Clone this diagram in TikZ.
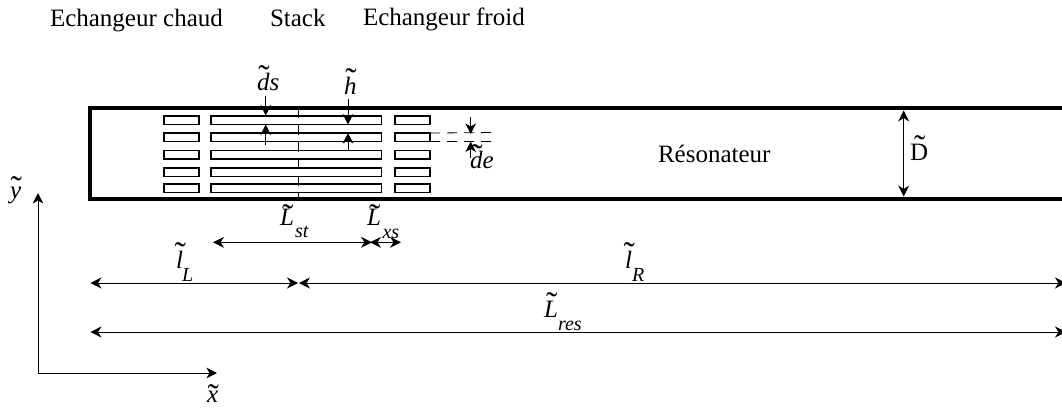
\documentclass[tikz,border=0pt]{standalone}
\usepackage{fontspec}
\setmainfont{Liberation Serif}
\usetikzlibrary{arrows.meta}
\newdimen\tlshift
\newcommand\tl[2][\itshape]{\setbox0\hbox{#1#2}\rlap{\hbox to \wd0{\hss\kern1.5pt\raisebox{\dimexpr\ht0-14.5pt+\tlshift\relax}[0pt][0pt]{\normalfont\fontsize{34}{34}\selectfont ^^^^02dc}\hss}}\box0}
\tikzset{
  x=1pt,y=-1pt,
  lab/.style={anchor=base west,inner sep=0pt,outer sep=0pt,font=\fontsize{25}{28}\selectfont},
  sublab/.style={anchor=base west,inner sep=0pt,outer sep=0pt,font=\fontsize{20}{24}\selectfont\itshape},
  plate/.style={draw,line width=1.5pt,minimum height=8.5pt,inner sep=0pt,outer sep=0pt},
  wall/.style={line width=4pt,miter limit=10},
  dim/.style={line width=1pt,{Stealth[length=11pt,width=11pt,inset=3.5pt]}-{Stealth[length=11pt,width=11pt,inset=3.5pt]}},
  arr/.style={line width=1pt,-{Stealth[length=10.5pt,width=10.5pt,inset=3pt]}},
  guide/.style={line width=0.8pt,dash pattern=on 10pt off 7pt},
}
\begin{document}
\begin{tikzpicture}
\useasboundingbox (0,0) rectangle (1062,407);
\clip (0,0) rectangle (1062,407);
% resonator
\coordinate (wallTR) at (1075,108);
\coordinate (wallTL) at (90,108);
\coordinate (wallBL) at (90,199);
\coordinate (wallBR) at (1075,199);
\draw[wall] (wallTR) -- (wallTL) -- (wallBL) -- (wallBR);
% plates
\foreach \i/\yy in {1/120,2/137.3,3/154.5,4/172,5/188}{
  \node[plate,minimum width=35pt]  (hot\i)   at (181.5,\yy) {};
  \node[plate,minimum width=170.5pt] (stack\i) at (296,\yy) {};
  \node[plate,minimum width=35pt]  (cold\i)  at (412.5,\yy) {};
}
% guides
\coordinate (midT) at (298,108);
\coordinate (midB) at (298,198);
\draw[guide] (midT) -- (midB);
\coordinate (g1) at (495,132.5);
\coordinate (g2) at (495,141.5);
\draw[guide] (cold2.north east) -- (g1);
\draw[guide] (cold2.south east) -- (g2);
% small dimension arrows
\coordinate (ds1) at (265.7,96);  \coordinate (ds2) at (265.7,115.5);
\coordinate (ds3) at (265.7,145); \coordinate (ds4) at (265.7,124.5);
\coordinate (h1) at (348,99);     \coordinate (h2) at (348,124.5);
\coordinate (h3) at (348,151);    \coordinate (h4) at (348,133);
\coordinate (de1) at (470.7,117); \coordinate (de2) at (470.7,134);
\coordinate (de3) at (470.7,158); \coordinate (de4) at (470.7,141.5);
\draw[arr] (ds1) -- (ds2);
\draw[arr] (ds3) -- (ds4);
\draw[arr] (h1) -- (h2);
\draw[arr] (h3) -- (h4);
\draw[arr] (de1) -- (de2);
\draw[arr] (de3) -- (de4);
% D
\coordinate (D1) at (903.7,110.5); \coordinate (D2) at (903.7,196.5);
\draw[dim] (D1) -- (D2);
% long dims
\coordinate (a1) at (213,242.3); \coordinate (a2) at (372,242.3);
\coordinate (b1) at (370,242.3); \coordinate (b2) at (401,242.3);
\coordinate (c1) at (90.5,283);  \coordinate (c2) at (298,283);
\coordinate (e1) at (299,283);   \coordinate (e2) at (1066,283);
\coordinate (f1) at (90.5,332);  \coordinate (f2) at (1066,332);
\draw[dim] (a1) -- (a2);
\draw[dim] (b1) -- (b2);
\draw[dim] (c1) -- (c2);
\draw[dim] (e1) -- (e2);
\draw[dim] (f1) -- (f2);
% axes
\coordinate (O) at (38,373);
\coordinate (Y) at (38,193);
\coordinate (X) at (217,373);
\draw[arr] (O) -- (Y);
\draw[arr] (O) -- (X);
% labels
\node[lab] (t1) at (50,26) {Echangeur chaud};
\node[lab] (t2) at (270,26) {Stack};
\node[lab] (t3) at (363,25) {Echangeur froid};
\node[lab] (res) at (658,162) {Résonateur};
\node[lab] (ldD) at (910,160.7) {\tl[\normalfont]{D}};
\node[lab] (lds) at (257,90.5) {\tlshift=-1pt \tl{d}\textit{s}};
\node[lab] (lh) at (344,94) {\tl{h}};
\node[lab] (lde) at (470,168) {\tlshift=-2pt \tl{d}\textit{e}};
\node[lab] (lLst) at (280,225) {\tlshift=-4pt \tl{L}};
\node[sublab] (sLst) at (295,237) {st};
\node[lab] (lLxs) at (367,225) {\tlshift=-4pt \tl{L}};
\node[sublab] (sLxs) at (382.5,238) {xs};
\node[lab] (lll) at (176,268) {\tl{l}};
\node[sublab] (sll) at (182,281) {L};
\node[lab] (llr) at (625,268) {\tl{l}};
\node[sublab] (slr) at (632,281) {R};
\node[lab] (lLr) at (544,317) {\tl{L}};
\node[sublab] (sLr) at (558,330) {res};
\node[lab] (lx) at (207,402) {\tlshift=-2pt \tl{x}};
\node[lab] (ly) at (10,198) {\tlshift=2pt \tl{y}};
\end{tikzpicture}
\end{document}
